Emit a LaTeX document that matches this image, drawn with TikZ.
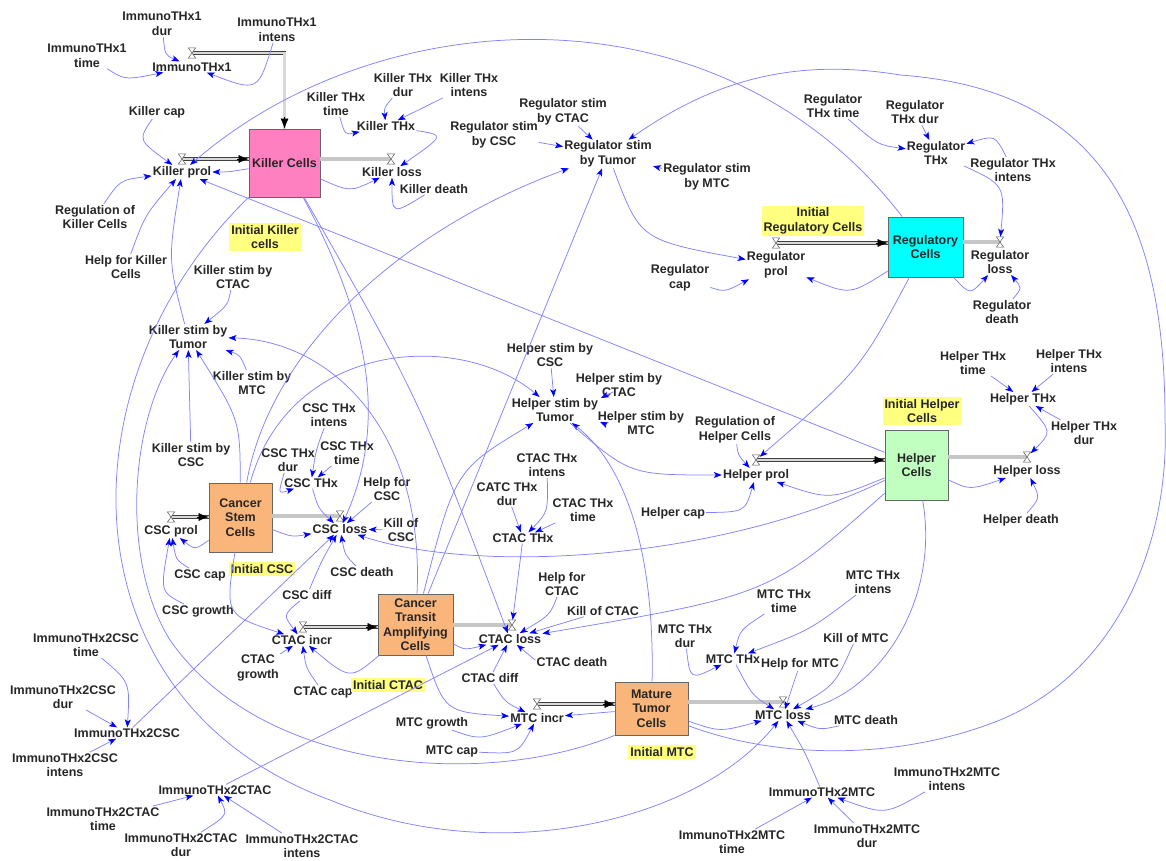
\documentclass[tikz,border=0pt]{standalone}
\usepackage{fontspec}
\setmainfont{Liberation Sans}
\usetikzlibrary{arrows.meta}
\definecolor{cline}{RGB}{130,130,255}
\definecolor{chead}{RGB}{0,0,255}
\definecolor{hly}{RGB}{255,255,128}
\definecolor{kpink}{RGB}{255,128,192}
\definecolor{rcyan}{RGB}{0,255,255}
\definecolor{hgreen}{RGB}{192,255,192}
\definecolor{torange}{RGB}{250,182,122}
\tikzset{
 lbl/.style={font=\fontsize{12.5}{14.5}\selectfont\bfseries, align=center, inner sep=1pt, text=black!85},
 hl/.style={lbl, fill=hly, inner sep=2pt},
 stock/.style={lbl, draw=gray!80!black, line width=0.8pt, inner sep=0pt},
 cn/.style={draw=cline, line width=0.75pt, -{Stealth[length=8pt,width=6pt,inset=2pt,color=chead]}},
 pipe/.style={draw=black!75, line width=0.5pt, double=gray!30, double distance=2.4pt},
 opipe/.style={draw=gray!70, line width=0.7pt, double=gray!45, double distance=3.2pt},
 ptip/.style={-{Latex[length=10pt,width=8pt]}, black, line width=0.5pt},
 vnode/.style={inner sep=0pt, minimum width=7pt, minimum height=10pt},
 vdraw/.style={draw=gray!70!black, fill=white, line width=0.5pt},
}
\newcommand\vlv[2]{\node[vnode] (#1) at (#2) {};}
\newcommand\hg[1]{\draw[vdraw] (#1.north west) -- (#1.north east) -- (#1.south west) -- (#1.south east) -- cycle;}
\begin{document}
\begin{tikzpicture}[x=1pt,y=-1pt]
\useasboundingbox (0,0) rectangle (1166,861);
% ---------- Killer ----------
\node[lbl] (imt1dur) at (162,24) {ImmunoTHx1\\dur};
\node[lbl] (imt1time) at (87,56) {ImmunoTHx1\\time};
\node[lbl] (imt1int) at (277,30) {ImmunoTHx1\\intens};
\node[lbl] (imt1) at (192,67) {ImmunoTHx1};
\vlv{vimt1}{192,53}
\node[lbl] (kcap) at (157,112) {Killer cap};
\node[lbl] (kprol) at (182,172) {Killer prol};
\vlv{vkprol}{182,159}
\node[stock, fill=kpink, minimum width=71pt, minimum height=68pt] (kc) at (284.5,163) {Killer Cells};
\node[lbl] (kloss) at (392,172) {Killer loss};
\vlv{vkloss}{391,159}
\node[lbl] (kthxtime) at (336,104) {Killer THx\\time};
\node[lbl] (kthxdur) at (403,85) {Killer THx\\dur};
\node[lbl] (kthxint) at (469,85) {Killer THx\\intens};
\node[lbl] (kthx) at (386,126) {Killer THx};
\node[lbl] (kdeath) at (434,189) {Killer death};
\node[lbl] (regk) at (95,217) {Regulation of\\Killer Cells};
\node[lbl] (helpk) at (126,267) {Help for Killer\\Cells};
\node[hl] (initk) at (265,237) {Initial Killer\\cells};
\node[lbl] (ksctac) at (233,277) {Killer stim by\\CTAC};
\node[lbl] (kstum) at (188,337) {Killer stim by\\Tumor};
\node[lbl] (ksmtc) at (252,383) {Killer stim by\\MTC};
\node[lbl] (kscsc) at (191,455) {Killer stim by\\CSC};
% ---------- Regulator ----------
\node[lbl] (rsctac) at (563,112) {Regulator stim\\by CTAC};
\node[lbl] (rscsc) at (494,135) {Regulator stim\\by CSC};
\node[lbl] (rstum) at (608,154) {Regulator stim\\by Tumor};
\node[lbl] (rsmtc) at (707,177) {Regulator stim\\by MTC};
\node[lbl] (rthxtime) at (833,106) {Regulator\\THx time};
\node[lbl] (rthxdur) at (915,112) {Regulator\\THx dur};
\node[lbl] (rthx) at (936,153) {Regulator\\THx};
\node[lbl] (rthxint) at (1013,170) {Regulator THx\\intens};
\node[hl] (initr) at (813,221) {Initial\\Regulatory Cells};
\node[lbl] (rprol) at (776,265) {Regulator\\prol};
\vlv{vrprol}{776,243}
\node[lbl] (rcap) at (680,278) {Regulator\\cap};
\node[stock, fill=rcyan, minimum width=75pt, minimum height=60pt] (rc) at (925.5,247) {Regulatory\\Cells};
\node[lbl] (rloss) at (1000,262) {Regulator\\loss};
\vlv{vrloss}{1000,242}
\node[lbl] (rdeath) at (1002,312) {Regulator\\death};
% ---------- Helper ----------
\node[lbl] (hscsc) at (550,355) {Helper stim by\\CSC};
\node[lbl] (hsctac) at (619,385) {Helper stim by\\CTAC};
\node[lbl] (hstum) at (555,410) {Helper stim by\\Tumor};
\node[lbl] (hsmtc) at (641,423) {Helper stim by\\MTC};
\node[lbl] (regh) at (735,430) {Regulation of\\Helper Cells};
\node[lbl] (hprol) at (756,475) {Helper prol};
\vlv{vhprol}{756,460}
\node[lbl] (hcap) at (673,513) {Helper cap};
\node[hl] (inith) at (922,411) {Initial Helper\\Cells};
\node[stock, fill=hgreen, minimum width=63pt, minimum height=70pt] (hc) at (916.5,465) {Helper\\Cells};
\node[lbl] (hloss) at (1027,471) {Helper loss};
\vlv{vhloss}{1027,457}
\node[lbl] (hthxtime) at (973,363) {Helper THx\\time};
\node[lbl] (hthxint) at (1069,361) {Helper THx\\intens};
\node[lbl] (hthx) at (1023,399) {Helper THx};
\node[lbl] (hthxdur) at (1084,433) {Helper THx\\dur};
\node[lbl] (hdeath) at (1021,520) {Helper death};
% ---------- CSC ----------
\node[stock, fill=torange, minimum width=63pt, minimum height=69pt] (csc) at (240.5,517.5) {Cancer\\Stem\\Cells};
\node[lbl] (cscprol) at (171,531) {CSC prol};
\vlv{vcscprol}{171,517}
\node[lbl] (csccap) at (200,575) {CSC cap};
\node[hl] (initcsc) at (262,569) {Initial CSC};
\node[lbl] (cscgrowth) at (198,611) {CSC growth};
\node[lbl] (cscthxint) at (329,415) {CSC THx\\intens};
\node[lbl] (cscthxdur) at (288,460) {CSC THx\\dur};
\node[lbl] (cscthxtime) at (347,453) {CSC THx\\time};
\node[lbl] (cscthx) at (311,483) {CSC THx};
\node[lbl] (helpcsc) at (387,489) {Help for\\CSC};
\node[lbl] (cscloss) at (340,529) {CSC loss};
\vlv{vcscloss}{340,516}
\node[lbl] (killcsc) at (401,530) {Kill of\\CSC};
\node[lbl] (cscdeath) at (362,572) {CSC death};
\node[lbl] (cscdiff) at (307,595) {CSC diff};
% ---------- CTAC ----------
\node[lbl] (ctacincr) at (302,640) {CTAC incr};
\vlv{vctacincr}{303,627}
\node[lbl] (ctacgrowth) at (258,668) {CTAC\\growth};
\node[lbl] (ctaccap) at (323,692) {CTAC cap};
\node[hl] (initctac) at (388,685) {Initial CTAC};
\node[stock, fill=torange, minimum width=75pt, minimum height=61pt] (ctac) at (415.5,624.5) {Cancer\\Transit\\Amplifying\\Cells};
\node[lbl] (ctacthxint) at (547,465) {CTAC THx\\intens};
\node[lbl] (ctacthxdur) at (507,494) {CATC THx\\dur};
\node[lbl] (ctacthxtime) at (583,510) {CTAC THx\\time};
\node[lbl] (ctacthx) at (523,538) {CTAC THx};
\node[lbl] (helpctac) at (562,584) {Help for\\CTAC};
\node[lbl] (killctac) at (603,611) {Kill of CTAC};
\node[lbl] (ctacloss) at (510,639) {CTAC loss};
\vlv{vctacloss}{512,625}
\node[lbl] (ctacdeath) at (572,662) {CTAC death};
\node[lbl] (ctacdiff) at (490,678) {CTAC diff};
% ---------- MTC ----------
\node[lbl] (mtcincr) at (537,718) {MTC incr};
\vlv{vmtcincr}{537,704}
\node[lbl] (mtcgrowth) at (432,723) {MTC growth};
\node[lbl] (mtccap) at (452,751) {MTC cap};
\node[stock, fill=torange, minimum width=73pt, minimum height=53pt] (mtc) at (651.5,708.5) {Mature\\Tumor\\Cells};
\node[hl] (initmtc) at (662,752) {Initial MTC};
\node[lbl] (mtcthxdur) at (685,636) {MTC THx\\dur};
\node[lbl] (mtcthxtime) at (784,601) {MTC THx\\time};
\node[lbl] (mtcthxint) at (873,582) {MTC THx\\intens};
\node[lbl] (mtcthx) at (733,659) {MTC THx};
\node[lbl] (helpmtc) at (800,664) {Help for MTC};
\node[lbl] (killmtc) at (856,638) {Kill of MTC};
\node[lbl] (mtcloss) at (783,715) {MTC loss};
\vlv{vmtcloss}{783,702}
\node[lbl] (mtcdeath) at (866,720) {MTC death};
% ---------- Immuno 2 ----------
\node[lbl] (i2mtc) at (822,792) {ImmunoTHx2MTC};
\node[lbl] (i2mtcint) at (947,779) {ImmunoTHx2MTC\\intens};
\node[lbl] (i2mtcdur) at (867,836) {ImmunoTHx2MTC\\dur};
\node[lbl] (i2mtctime) at (732,842) {ImmunoTHx2MTC\\time};
\node[lbl] (i2csctime) at (86,645) {ImmunoTHx2CSC\\time};
\node[lbl] (i2cscdur) at (63,697) {ImmunoTHx2CSC\\dur};
\node[lbl] (i2csc) at (127,733) {ImmunoTHx2CSC};
\node[lbl] (i2cscint) at (65,765) {ImmunoTHx2CSC\\intens};
\node[lbl] (i2ctac) at (215,790) {ImmunoTHx2CTAC};
\node[lbl] (i2ctactime) at (103,819) {ImmunoTHx2CTAC\\time};
\node[lbl] (i2ctacdur) at (181,845) {ImmunoTHx2CTAC\\dur};
\node[lbl] (i2ctacint) at (302,846) {ImmunoTHx2CTAC\\intens};

% ---------- pipes ----------
\coordinate (pkp) at (vkprol.center -| kc.west);
\coordinate (prp) at (vrprol.center -| rc.west);
\coordinate (php) at (vhprol.center -| hc.west);
\coordinate (pcp) at (vcscprol.center -| csc.west);
\coordinate (ptp) at (vctacincr.center -| ctac.west);
\coordinate (pmp) at (vmtcincr.center -| mtc.west);
\draw[pipe] (vimt1.center) -| (kc.north);
\draw[pipe] (vkprol.center) -- (pkp);
\draw[pipe] (vrprol.center) -- (prp);
\draw[pipe] (vhprol.center) -- (php);
\draw[pipe] (vcscprol.center) -- (pcp);
\draw[pipe] (vctacincr.center) -- (ptp);
\draw[pipe] (vmtcincr.center) -- (pmp);
\draw[ptip] ([yshift=12pt]kc.north) -- (kc.north);
\draw[ptip] ([xshift=-12pt]pkp) -- (pkp);
\draw[ptip] ([xshift=-12pt]prp) -- (prp);
\draw[ptip] ([xshift=-12pt]php) -- (php);
\draw[ptip] ([xshift=-12pt]pcp) -- (pcp);
\draw[ptip] ([xshift=-12pt]ptp) -- (ptp);
\draw[ptip] ([xshift=-12pt]pmp) -- (pmp);
\draw[opipe] (vkloss.center -| kc.east) -- (vkloss.center);
\draw[opipe] (vrloss.center -| rc.east) -- (vrloss.center);
\draw[opipe] (vhloss.center -| hc.east) -- (vhloss.center);
\draw[opipe] (vcscloss.center -| csc.east) -- (vcscloss.center);
\draw[opipe] (vctacloss.center -| ctac.east) -- (vctacloss.center);
\draw[opipe] (vmtcloss.center -| mtc.east) -- (vmtcloss.center);
\hg{vimt1}\hg{vkprol}\hg{vkloss}\hg{vrprol}\hg{vrloss}\hg{vhprol}\hg{vhloss}
\hg{vcscprol}\hg{vcscloss}\hg{vctacincr}\hg{vctacloss}\hg{vmtcincr}\hg{vmtcloss}

% ---------- connectors: Killer ----------
\draw[cn] (imt1dur) .. controls (165,55) .. (imt1);
\draw[cn] (imt1time) .. controls (125,80) .. (imt1);
\draw[cn] (imt1int) .. controls (258,92) .. (imt1);
\draw[cn] (kcap) .. controls (138,140) .. (kprol);
\draw[cn] (kc) .. controls (228,172) .. (kprol);
\draw[cn] (regk) .. controls (120,180) .. (kprol);
\draw[cn] (helpk) .. controls (145,215) .. (kprol);
\draw[cn] (kstum) .. controls (168,260) .. (kprol);
\draw[cn] (hc) -- (kprol);
\draw[cn] (rc) .. controls (720,-20) and (380,0) .. (kprol);
\draw[cn] (kc) .. controls (350,192) .. (kloss);
\draw[cn] (kthxtime) .. controls (345,135) .. (kthx);
\draw[cn] (kthxdur) .. controls (384,108) .. (kthx);
\draw[cn] (kthxint) -- (kthx);
\draw[cn] (kthx) .. controls (445,135) .. (kloss);
\draw[cn] (kdeath) .. controls (392,215) .. (kloss);
\draw[cn] (ksctac) .. controls (228,305) .. (kstum);
\draw[cn] (ksmtc) .. controls (240,355) .. (kstum);
\draw[cn] (kscsc) -- (kstum);
\draw[cn] (csc) .. controls (240,420) .. (kstum);
\draw[cn] (ctac) .. controls (425,430) and (330,340) .. (kstum);
\draw[cn] (kc) .. controls (375,330) and (385,430) .. (cscloss);
\draw[cn] (kc) .. controls (420,400) .. (ctacloss);
\draw[cn] (kc.south west) .. controls (60,380) and (60,700) .. (330,800) .. controls (500,870) and (700,820) .. (mtcloss);
\draw[cn] (mtc.south west) .. controls (480,790) and (260,770) .. (170,640) .. controls (120,560) and (130,420) .. (kstum);
% ---------- connectors: Regulator ----------
\draw[cn] (rsctac) -- (rstum);
\draw[cn] (rscsc) -- (rstum);
\draw[cn] (rsmtc) .. controls (660,168) .. (rstum);
\draw[cn] (rstum) .. controls (640,240) .. (rprol);
\draw[cn] (rcap) .. controls (725,292) .. (rprol);
\draw[cn] (rc) .. controls (850,295) .. (rprol);
\draw[cn] (rc) .. controls (970,295) .. (rloss);
\draw[cn] (rthx) .. controls (1005,185) .. (vrloss);
\draw[cn] (rdeath) .. controls (1022,288) .. (rloss);
\draw[cn] (rthxtime) .. controls (878,145) .. (rthx);
\draw[cn] (rthxdur) -- (rthx);
\draw[cn] (rthxint) .. controls (995,135) .. (rthx);
\draw[cn] (rc) .. controls (860,370) .. (vhprol);
\draw[cn] (csc) .. controls (270,350) and (400,230) .. (rstum);
\draw[cn] (ctac) -- (rstum);
\draw[cn] (mtc.-25) .. controls (780,760) and (900,760) .. (1000,720) .. controls (1120,670) and (1170,540) .. (1165,420) .. controls (1165,230) and (1110,90) .. (900,75) .. controls (780,55) and (700,90) .. (rstum);
% ---------- connectors: Helper ----------
\draw[cn] (hscsc) -- (hstum);
\draw[cn] ([shift={(-6,7)}]hsctac.center) -- ([shift={(46,-12)}]hstum.center);
\draw[cn] ([shift={(-34,2)}]hsmtc.center) -- ([shift={(45,12)}]hstum.center);
\draw[cn] (csc) .. controls (290,340) and (460,330) .. (hstum);
\draw[cn] (ctac) .. controls (455,470) .. (hstum);
\draw[cn] (mtc) .. controls (655,540) and (620,460) .. (hstum);
\draw[cn] (hstum) .. controls (630,475) .. (hprol);
\draw[cn] (regh) .. controls (738,455) .. (hprol);
\draw[cn] (hcap) .. controls (745,512) .. (hprol);
\draw[cn] (hc) .. controls (830,500) .. (hprol);
\draw[cn] (hc) .. controls (970,490) .. (hloss);
\draw[cn] (hthxtime) -- (hthx);
\draw[cn] (hthxint) -- (hthx);
\draw[cn] (hthxdur) -- (hthx);
\draw[cn] (hthx) .. controls (1052,432) .. (vhloss);
\draw[cn] (hdeath) .. controls (1040,498) .. (hloss);
\draw[cn] (hc) .. controls (720,560) and (480,575) .. (cscloss);
\draw[cn] (hc) .. controls (770,595) .. (ctacloss);
\draw[cn] (hc) .. controls (940,600) and (880,690) .. (mtcloss);
% ---------- connectors: CSC ----------
\draw[cn] (csccap) .. controls (176,560) .. (cscprol);
\draw[cn] (csc) .. controls (195,550) .. (cscprol);
\draw[cn] (cscgrowth) .. controls (160,592) .. (cscprol);
\draw[cn] (cscthxdur) .. controls (278,494) .. (cscthx);
\draw[cn] (cscthxint) .. controls (316,450) .. (cscthx);
\draw[cn] (cscthxtime) -- (cscthx);
\draw[cn] (cscthx) .. controls (318,508) .. (cscloss);
\draw[cn] (helpcsc) -- (cscloss);
\draw[cn] (killcsc) -- (cscloss);
\draw[cn] (cscdeath) .. controls (345,555) .. (cscloss);
\draw[cn] (csc) .. controls (292,537) .. (cscloss);
\draw[cn] (i2csc) -- (cscloss);
\draw[cn] (csc) .. controls (225,615) .. (ctacincr);
\draw[cn] (cscdiff) .. controls (283,615) .. (ctacincr);
\draw[cn] (cscdiff) .. controls (322,560) .. (cscloss);
% ---------- connectors: CTAC ----------
\draw[cn] (ctacgrowth) -- (ctacincr);
\draw[cn] (ctaccap) .. controls (306,668) .. (ctacincr);
\draw[cn] (ctac) .. controls (350,680) .. (ctacincr);
\draw[cn] (ctac) .. controls (465,650) .. (ctacloss);
\draw[cn] (ctacthx) -- (vctacloss);
\draw[cn] (ctacthxdur) -- (ctacthx);
\draw[cn] (ctacthxint) .. controls (548,512) .. (ctacthx);
\draw[cn] (ctacthxtime) -- (ctacthx);
\draw[cn] (helpctac) .. controls (550,615) .. (ctacloss);
\draw[cn] (killctac) -- (ctacloss);
\draw[cn] (ctacdeath) .. controls (535,660) .. (ctacloss);
\draw[cn] (ctacdiff) -- (ctacloss);
\draw[cn] (ctacdiff) .. controls (505,702) .. (mtcincr);
\draw[cn] (ctac) .. controls (445,712) .. (mtcincr);
\draw[cn] (i2ctac) -- (ctacloss);
% ---------- connectors: MTC ----------
\draw[cn] (mtcgrowth) .. controls (480,740) .. (mtcincr);
\draw[cn] (mtccap) .. controls (518,754) .. (mtcincr);
\draw[cn] (mtc) -- (mtcincr);
\draw[cn] (mtc) .. controls (720,732) .. (mtcloss);
\draw[cn] (mtcthxdur) .. controls (690,680) .. (mtcthx);
\draw[cn] (mtcthxtime) .. controls (740,630) .. (mtcthx);
\draw[cn] (mtcthxint) .. controls (810,630) .. (mtcthx);
\draw[cn] (mtcthx) .. controls (752,695) .. (mtcloss);
\draw[cn] (helpmtc) -- (mtcloss);
\draw[cn] (killmtc) .. controls (835,685) .. (mtcloss);
\draw[cn] (mtcdeath) .. controls (820,730) .. (mtcloss);
\draw[cn] (i2mtc) .. controls (805,752) .. (mtcloss);
\draw[cn] (i2mtctime) -- (i2mtc);
\draw[cn] (i2mtcdur) -- (i2mtc);
\draw[cn] (i2mtcint) .. controls (885,815) .. (i2mtc);
\draw[cn] (i2csctime) .. controls (130,682) .. (i2csc);
\draw[cn] (i2cscdur) -- (i2csc);
\draw[cn] (i2cscint) -- (i2csc);
\draw[cn] (i2ctactime) -- (i2ctac);
\draw[cn] (i2ctacdur) .. controls (228,815) .. (i2ctac);
\draw[cn] (i2ctacint) -- (i2ctac);
\end{tikzpicture}
\end{document}
